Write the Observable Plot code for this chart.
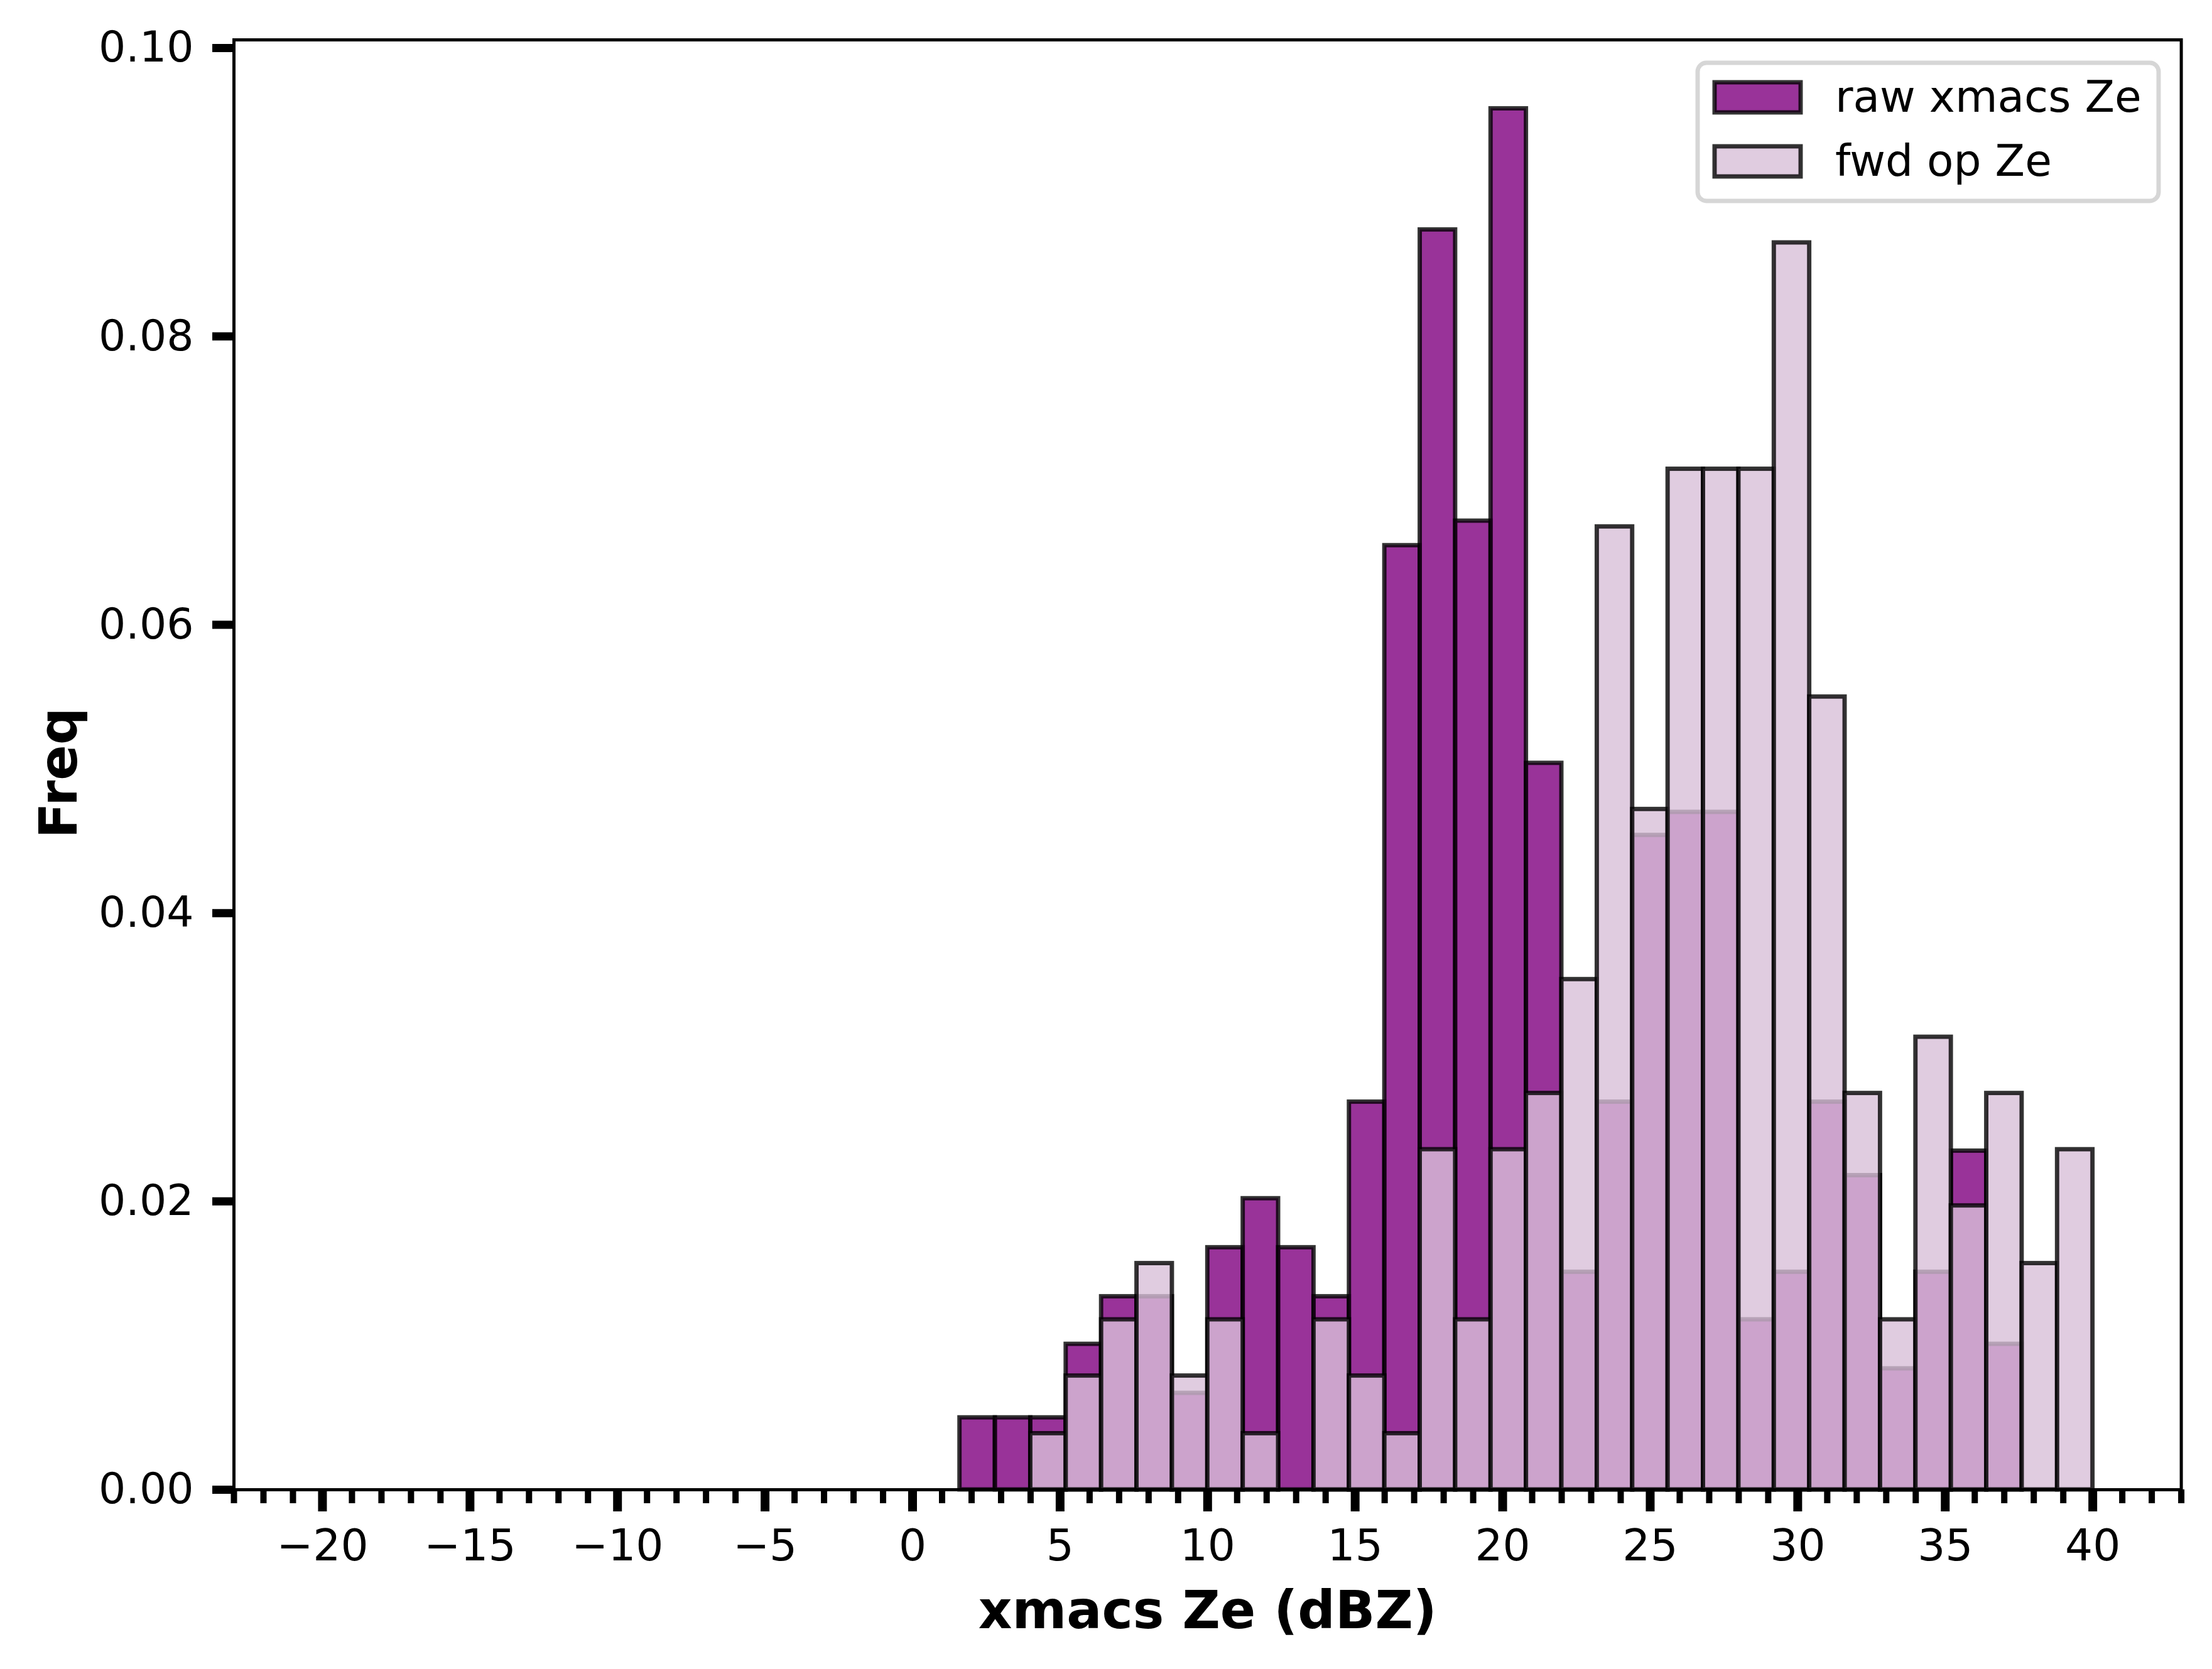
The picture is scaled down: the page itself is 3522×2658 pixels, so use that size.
<!DOCTYPE html>
<html>
<head>
<meta charset="utf-8">
<script src="https://cdn.jsdelivr.net/npm/d3@7"></script>
<script src="https://cdn.jsdelivr.net/npm/@observablehq/plot@0.6"></script>
<style>
html, body { margin: 0; padding: 0; background: #fff; }
svg { display: block; }
</style>
</head>
<body>
<div id="chart"></div>
<script>
// Histogram bin edges (dBZ)
const binEdges = [1.6, 2.8, 4.0, 5.2, 6.4, 7.6, 8.8, 10.0, 11.2, 12.4, 13.6, 14.8, 16.0, 17.2, 18.4, 19.6, 20.8,
  22.0, 23.2, 24.4, 25.6, 26.8, 28.0, 29.2, 30.4, 31.6, 32.8, 34.0, 35.2, 36.4, 37.6, 38.8, 40.0];

// raw xmacs Ze frequency per bin
const rawFreq = [0.0050, 0.0050, 0.0050, 0.0101, 0.0134, 0.0134, 0.0067, 0.0168, 0.0202, 0.0168, 0.0134,
  0.0269, 0.0655, 0.0874, 0.0672, 0.0958, 0.0504, 0.0151, 0.0269, 0.0454, 0.0470, 0.0470, 0.0118, 0.0151,
  0.0269, 0.0218, 0.0084, 0.0151, 0.0235, 0.0101, 0.0, 0.0];

// fwd op Ze frequency per bin
const fwdFreq = [0.0, 0.0, 0.0039, 0.0079, 0.0118, 0.0157, 0.0079, 0.0118, 0.0039, 0.0, 0.0118,
  0.0079, 0.0039, 0.0236, 0.0118, 0.0236, 0.0275, 0.0354, 0.0668, 0.0472, 0.0708, 0.0708, 0.0708, 0.0865,
  0.0550, 0.0275, 0.0118, 0.0314, 0.0197, 0.0275, 0.0157, 0.0236];

const seriesNames = ["raw xmacs Ze", "fwd op Ze"];
const xMajorTicks = [-20, -15, -10, -5, 0, 5, 10, 15, 20, 25, 30, 35, 40];
const yTicks = [0, 0.02, 0.04, 0.06, 0.08, 0.10];
const xDomain = [-23, 43];
const yDomain = [0, 0.10057];
const xLabel = "xmacs Ze (dBZ)";
const yLabel = "Freq";

const toBars = (vals) => vals.map((v, i) => ({x1: binEdges[i], x2: binEdges[i + 1], y: v})).filter(d => d.y > 0);
const rawBars = toBars(rawFreq);
const fwdBars = toBars(fwdFreq);

const W = 3522, H = 2658;
const lw = 6.9;

const svg = Plot.plot({
  width: W,
  height: H,
  marginLeft: 372,
  marginRight: 49.4,
  marginTop: 63,
  marginBottom: 286,
  style: {fontFamily: "DejaVu Sans", background: "white", color: "black", overflow: "visible"},
  x: {domain: xDomain, label: null},
  y: {domain: yDomain, label: null},
  marks: [
    Plot.rectY(rawBars, {x1: "x1", x2: "x2", y: "y", fill: "purple", fillOpacity: 0.8,
      stroke: "black", strokeOpacity: 0.8, strokeWidth: lw}),
    Plot.rectY(fwdBars, {x1: "x1", x2: "x2", y: "y", fill: "thistle", fillOpacity: 0.8,
      stroke: "black", strokeOpacity: 0.8, strokeWidth: lw}),
    Plot.frame({stroke: "black", strokeWidth: 5}),
    Plot.axisX(d3.range(-23, 44), {tickSize: 22, strokeWidth: 10, tickFormat: () => "", label: null}),
    Plot.axisX(xMajorTicks, {tickSize: 35, strokeWidth: 14, tickPadding: 28, fontSize: 69.4,
      tickFormat: d3.format("d"), label: null}),
    Plot.axisY(yTicks, {tickSize: 34, strokeWidth: 13, tickPadding: 30, fontSize: 68,
      tickFormat: d3.format(".2f"), label: null}),
    Plot.text([xLabel], {text: d => d, frameAnchor: "bottom", dy: 220, lineAnchor: "bottom",
      textAnchor: "middle", fontSize: 83.3, fontWeight: "bold"}),
    Plot.text([yLabel], {text: d => d, frameAnchor: "left", dx: -251, dy: 13, rotate: -90,
      lineAnchor: "bottom", textAnchor: "middle", fontSize: 83.3, fontWeight: "bold"})
  ]
});

// Legend (matplotlib-style box in the upper right)
const lg = d3.select(svg).append("g").attr("font-family", "DejaVu Sans").attr("text-anchor", "start");
lg.append("rect").attr("x", 2703).attr("y", 100).attr("width", 734).attr("height", 220)
  .attr("rx", 14).attr("ry", 14).attr("fill", "white").attr("fill-opacity", 0.8)
  .attr("stroke", "#cccccc").attr("stroke-opacity", 0.8).attr("stroke-width", lw);
const legendFills = ["purple", "thistle"];
seriesNames.forEach((name, i) => {
  const y0 = 131 + i * 102;
  lg.append("rect").attr("x", 2730).attr("y", y0).attr("width", 137).attr("height", 48)
    .attr("fill", legendFills[i]).attr("fill-opacity", 0.8)
    .attr("stroke", "black").attr("stroke-opacity", 0.8).attr("stroke-width", lw);
  lg.append("text").attr("x", 2922).attr("y", 178 + i * 102).attr("font-size", 69.4)
    .attr("text-anchor", "start").attr("fill", "black").text(name);
});

document.getElementById("chart").appendChild(svg);
</script>
</body>
</html>
